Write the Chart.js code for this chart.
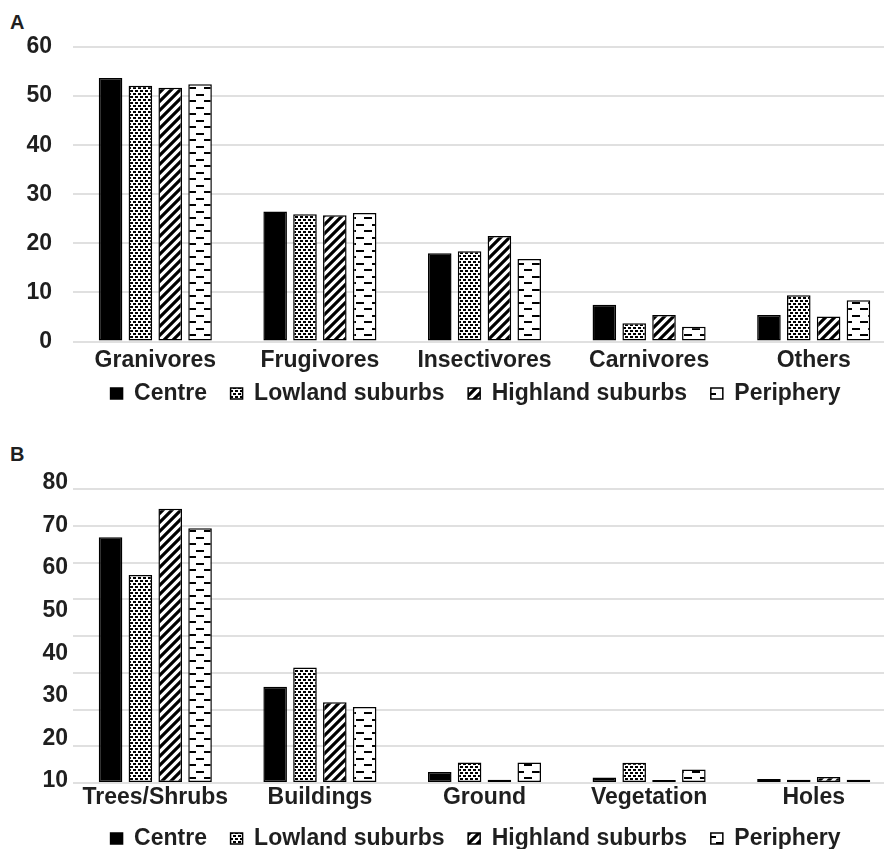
<!DOCTYPE html>
<html>
<head>
<meta charset="utf-8">
<script src="https://cdn.jsdelivr.net/npm/chart.js@4.4.1/dist/chart.umd.min.js"></script>
<style>
  html, body { margin: 0; padding: 0; background: #fff; overflow: hidden; }
  body { width: 884px; height: 849px; position: relative; }
  .panel { position: absolute; left: 0; }
  .tag { position: absolute; left: 10px; font: bold 20px 'Liberation Sans', Arial, sans-serif; line-height: 20px; color: #1f1f1f; }
</style>
</head>
<body>
<div class="tag" style="top:12px">A</div>
<div class="tag" style="top:444px">B</div>
<div class="panel" style="top:0"><canvas id="chartA" width="896" height="415"></canvas></div>
<div class="panel" style="top:430px"><canvas id="chartB" width="896" height="430"></canvas></div>
<script>
// series names (legend)
const seriesNames = ['Centre', 'Lowland suburbs', 'Highland suburbs', 'Periphery'];

// panel A - feeding guilds
const groupsA = ['Granivores', 'Frugivores', 'Insectivores', 'Carnivores', 'Others'];
const centreA = [53.7, 26.5, 18.0, 7.5, 5.4];
const lowlandA = [52.1, 25.9, 18.4, 3.7, 9.4];
const highlandA = [51.7, 25.7, 21.5, 5.4, 5.1];
const peripheryA = [52.4, 26.2, 16.8, 3.0, 8.4];
const ticksA = [0, 10, 20, 30, 40, 50, 60];

// panel B - nesting sites
const groupsB = ['Trees/Shrubs', 'Buildings', 'Ground', 'Vegetation', 'Holes'];
const centreB = [66.9, 26.2, 3.0, 1.5, 1.1];
const lowlandB = [56.6, 31.4, 5.6, 5.5, 0.9];
const highlandB = [74.6, 22.0, 0.9, 0.8, 1.6];
const peripheryB = [69.3, 20.7, 5.6, 3.7, 0.9];
const gridB = [0, 10, 20, 30, 40, 50, 60, 70, 80];
const tickLabelsB = [10, 20, 30, 40, 50, 60, 70, 80];

const FONT = "'Liberation Sans', Arial, sans-serif";
const TEXT = '#1f1f1f';
const GRID = '#e0e0e0';

function makePattern(w, h, draw) {
    const c = document.createElement('canvas');
    c.width = w;
    c.height = h;
    const g = c.getContext('2d');
    g.fillStyle = '#fff';
    g.fillRect(0, 0, w, h);
    g.fillStyle = '#000';
    g.strokeStyle = '#000';
    draw(g);
    return g.createPattern(c, 'repeat');
}

// confetti dots
const dots = makePattern(10, 6, g => {
    g.fillRect(0, 0, 3, 2);
    g.fillRect(5, 0, 3, 2);
    g.fillRect(3, 3, 3, 2);
    g.fillRect(8, 3, 2, 2);
    g.fillRect(0, 3, 1, 2);
});
// wide upward diagonal
const stripes = makePattern(9, 9, g => {
    g.lineWidth = 3.2;
    g.beginPath();
    g.moveTo(-1, 10); g.lineTo(10, -1);
    g.moveTo(-2, 2); g.lineTo(2, -2);
    g.moveTo(7, 11); g.lineTo(11, 7);
    g.stroke();
});
// dashed horizontal
const dashes = makePattern(16, 13, g => {
    g.fillRect(4, 3, 8, 2);
    g.fillRect(12, 9, 4, 2);
    g.fillRect(0, 9, 4, 2);
});

const fills = ['#000', dots, stripes, dashes];

function datasets(values) {
    return values.map((v, i) => ({
        label: seriesNames[i],
        data: v,
        backgroundColor: fills[i],
        borderColor: '#000',
        borderWidth: 1.5,
        borderSkipped: false,
        barPercentage: 0.79,
        categoryPercentage: 0.725
    }));
}

// legend sits a bit right of the plot centre, like the original figure
const legendShift = {
    id: 'legendShift',
    afterLayout(chart) {
        chart.legend.left = 55;
    }
};

function baseOptions(padTop) {
    return {
        responsive: false,
        animation: false,
        layout: { padding: { left: 0, right: 0, top: padTop, bottom: 0 } },
        plugins: {
            tooltip: { enabled: false },
            legend: {
                position: 'bottom',
                labels: {
                    boxWidth: 12,
                    boxHeight: 11,
                    padding: 4.5,
                    color: TEXT,
                    font: { family: FONT, size: 23, weight: 'bold' },
                    generateLabels(chart) {
                        const items = Chart.defaults.plugins.legend.labels.generateLabels(chart);
                        items.forEach((it, i) => {
                            if (i < items.length - 1) it.text = it.text + '\u00a0\u00a0\u00a0';
                        });
                        return items;
                    }
                }
            }
        }
    };
}

// Panel A
const optsA = baseOptions(47);
optsA.scales = {
    x: {
        grid: { display: false, drawTicks: false },
        border: { display: false },
        ticks: { color: TEXT, padding: 8, maxRotation: 0, autoSkip: false,
                 font: { family: FONT, size: 23, weight: 'bold', lineHeight: 1 } },
        afterFit: s => { s.height = 36; }
    },
    y: {
        min: ticksA[0],
        max: ticksA[ticksA.length - 1],
        grid: { color: GRID, lineWidth: 2, drawTicks: false },
        border: { display: false },
        ticks: { stepSize: 10, color: TEXT, padding: 21,
                 font: { family: FONT, size: 23, weight: 'bold' } },
        afterFit: s => { s.width = 73; }
    }
};
new Chart(document.getElementById('chartA'), {
    type: 'bar',
    data: { labels: groupsA, datasets: datasets([centreA, lowlandA, highlandA, peripheryA]) },
    options: optsA,
    plugins: [legendShift]
});

// Panel B
const optsB = baseOptions(59);
optsB.scales = {
    x: {
        grid: { display: false, drawTicks: false },
        border: { display: false },
        ticks: { color: TEXT, padding: 3, maxRotation: 0, autoSkip: false,
                 font: { family: FONT, size: 23, weight: 'bold', lineHeight: 1 } },
        afterFit: s => { s.height = 39.5; }
    },
    y: {
        position: 'left',
        min: gridB[0],
        max: gridB[gridB.length - 1],
        grid: { color: GRID, lineWidth: 2, drawTicks: false },
        border: { display: false },
        ticks: { display: false, stepSize: 10 },
        afterFit: s => { s.width = 0; }
    },
    // the printed labels run 10..80 over the same height as the 0..80 grid
    yLabels: {
        position: 'left',
        min: 9.53,
        max: 78.59,
        grid: { display: false, drawTicks: false },
        border: { display: false },
        ticks: { color: TEXT, padding: 5, autoSkip: false,
                 font: { family: FONT, size: 23, weight: 'bold' } },
        afterBuildTicks: s => { s.ticks = tickLabelsB.map(v => ({ value: v })); },
        afterFit: s => { s.width = 73; }
    }
};
new Chart(document.getElementById('chartB'), {
    type: 'bar',
    data: { labels: groupsB, datasets: datasets([centreB, lowlandB, highlandB, peripheryB]) },
    options: optsB,
    plugins: [legendShift]
});
</script>
</body>
</html>
